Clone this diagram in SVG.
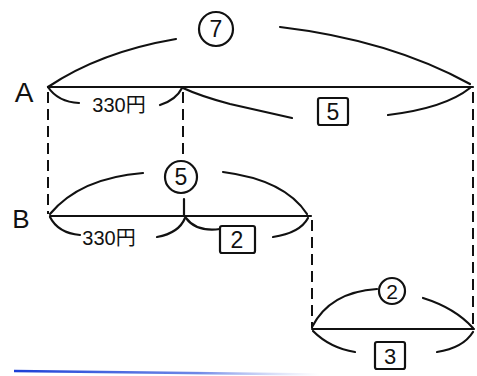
<svg xmlns="http://www.w3.org/2000/svg" width="477" height="376" viewBox="0 0 477 376">
<style>
.ln{stroke:#111;stroke-width:2.2;fill:none;stroke-linecap:round;stroke-linejoin:round}
.ds{stroke:#111;stroke-width:2;fill:none;stroke-dasharray:11 6}
.t{font-family:"Liberation Sans","Noto Sans CJK JP",sans-serif;fill:#111;text-anchor:middle}
.bx{stroke:#111;stroke-width:2.2;fill:none}
</style>
<defs>
<linearGradient id="blue" gradientUnits="userSpaceOnUse" x1="14" y1="0" x2="320" y2="0">
<stop offset="0" stop-color="#1c3fd6"/>
<stop offset="0.6" stop-color="#4a6ae0" stop-opacity="0.8"/>
<stop offset="1" stop-color="#9fb0f0" stop-opacity="0"/>
</linearGradient>
</defs>
<rect width="477" height="376" fill="#fff"/>
<g id="connectors">
<line class="ds" x1="48" y1="92" x2="48" y2="214"/>
<line class="ds" x1="183" y1="92" x2="183" y2="158"/>
<line class="ln" x1="184" y1="199" x2="184" y2="216"/>
<line class="ds" x1="473" y1="92" x2="473" y2="328"/>
<line class="ds" x1="312" y1="220" x2="312" y2="328"/>
</g>
<g id="rowA">
<text class="t" x="24" y="102" font-size="28">A</text>
<line class="ln" x1="48" y1="87" x2="473" y2="87"/>
<path class="ln" d="M48 87 Q100 52 176 39"/>
<path class="ln" d="M280 27 Q390 40 470 84"/>
<circle cx="216" cy="29" r="17" class="bx"/>
<text class="t" x="216" y="37" font-size="23">7</text>
<path class="ln" d="M48 87 Q58 102 79 103"/>
<text class="t" x="119" y="112" font-size="20">330円</text>
<path class="ln" d="M160 105 Q176 100 182 88"/>
<path class="ln" d="M183 88 Q200 96 230 104 Q265 112 292 118"/>
<rect class="bx" x="318" y="98" width="30" height="27" rx="2"/>
<text class="t" x="333" y="120" font-size="23">5</text>
<path class="ln" d="M388 115 Q445 108 470 88"/>
</g>
<g id="rowB">
<text class="t" x="21" y="228" font-size="26">B</text>
<line class="ln" x1="50" y1="216" x2="311" y2="216"/>
<path class="ln" d="M50 214 Q80 178 143 173"/>
<path class="ln" d="M223 172 Q285 180 307 214"/>
<circle cx="181" cy="177" r="16" class="bx"/>
<text class="t" x="181" y="185" font-size="23">5</text>
<path class="ln" d="M50 217 Q58 233 80 235"/>
<text class="t" x="109" y="245" font-size="20">330円</text>
<path class="ln" d="M157 237 Q179 233 185 218"/>
<path class="ln" d="M186 218 Q196 232 220 229"/>
<rect class="bx" x="220" y="226" width="35" height="27" rx="2"/>
<text class="t" x="237" y="248" font-size="23">2</text>
<path class="ln" d="M273 237 Q300 233 308 218"/>
</g>
<g id="rowC">
<line class="ln" x1="312" y1="329" x2="474" y2="329"/>
<path class="ln" d="M312 327 Q330 292 377 289"/>
<path class="ln" d="M423 298 Q455 308 473 328"/>
<circle cx="392" cy="291" r="13" class="bx"/>
<text class="t" x="392" y="299" font-size="21">2</text>
<path class="ln" d="M313 331 Q330 348 355 352"/>
<rect class="bx" x="375" y="342" width="30" height="27" rx="2"/>
<text class="t" x="390" y="364" font-size="22">3</text>
<path class="ln" d="M437 352 Q463 348 473 332"/>
</g>
<line x1="14" y1="371" x2="320" y2="374.5" stroke="url(#blue)" stroke-width="2.5"/>
</svg>
